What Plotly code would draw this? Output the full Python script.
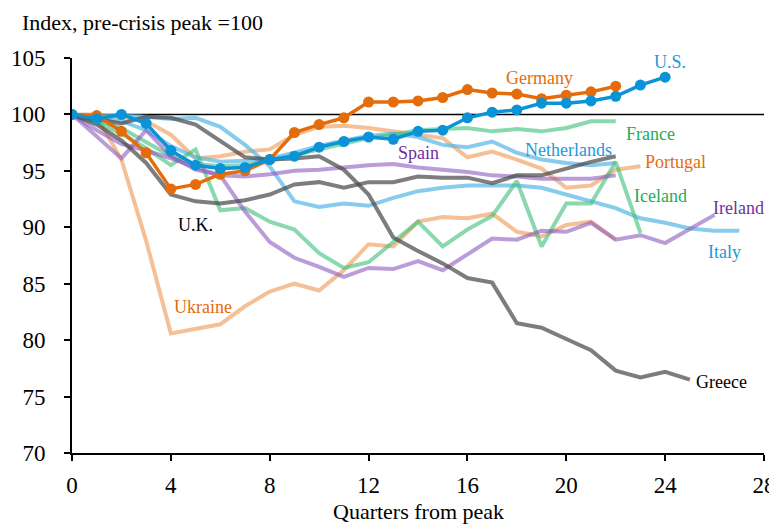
import plotly.graph_objects as go

# index, pre-crisis peak = 100, by quarters from peak
germany = [100, 99.9, 98.5, 96.6, 93.4, 93.8, 94.7, 95.0, 96.0, 98.4, 99.1, 99.7, 101.1, 101.1, 101.2,
           101.5, 102.2, 101.9, 101.8, 101.4, 101.7, 102.0, 102.5]
us = [100, 99.6, 100.0, 99.2, 96.8, 95.5, 95.2, 95.3, 96.0, 96.3, 97.1, 97.6, 98.0, 97.8, 98.5,
      98.6, 99.7, 100.2, 100.4, 101.0, 101.0, 101.2, 101.6, 102.6, 103.3]
france = [100, 99.5, 98.8, 97.6, 96.3, 95.6, 95.4, 95.5, 95.9, 96.4, 96.9, 97.4, 97.9, 98.2, 98.6,
          98.7, 98.8, 98.5, 98.7, 98.5, 98.8, 99.4, 99.4]
netherlands = [100, 99.7, 99.4, 98.6, 97.2, 96.2, 95.8, 95.9, 96.1, 96.6, 97.2, 97.7, 98.1, 98.3, 98.0,
               97.3, 97.1, 97.6, 96.6, 96.0, 95.7, 95.5, 95.7]
portugal = [100, 100.0, 99.7, 99.4, 98.2, 96.1, 96.3, 96.7, 96.9, 98.2, 98.9, 99.0, 98.8, 98.5, 98.2,
            97.9, 96.2, 96.7, 96.0, 95.2, 93.5, 93.7, 95.1, 95.4]
spain = [100, 98.0, 96.1, 98.6, 96.3, 95.1, 94.6, 94.5, 94.7, 95.0, 95.1, 95.3, 95.5, 95.6, 95.3,
         95.1, 94.9, 94.6, 94.5, 94.3, 94.3, 94.3, 94.6]
iceland = [100, 99.3, 98.3, 97.0, 95.5, 96.9, 91.5, 91.7, 90.5, 89.8, 87.7, 86.4, 86.9, 88.7, 90.5,
           88.3, 89.8, 91.0, 94.1, 88.3, 92.1, 92.1, 95.8, 89.5]
ireland = [100, 98.6, 97.4, 96.8, 96.1, 95.3, 94.6, 91.4, 88.7, 87.3, 86.5, 85.6, 86.4, 86.3, 87.0,
           86.2, 87.6, 89.0, 88.9, 89.7, 89.6, 90.4, 88.9, 89.3, 88.6, 89.9, 91.1]
italy = [100, 99.8, 99.9, 99.8, 99.6, 99.7, 98.9, 97.3, 95.4, 92.3, 91.8, 92.1, 91.9, 92.6, 93.2,
         93.5, 93.7, 93.7, 93.7, 93.5, 92.9, 92.3, 91.7, 90.8, 90.4, 89.9, 89.7, 89.7]
uk = [100, 99.1, 97.7, 95.7, 92.9, 92.3, 92.1, 92.4, 92.9, 93.8, 94.0, 93.5, 94.0, 94.0, 94.5,
      94.4, 94.4, 93.9, 94.6, 94.6, 95.2, 95.8, 96.3]
greece = [100, 99.6, 99.2, 99.8, 99.7, 99.1, 97.6, 96.2, 96.0, 96.1, 96.3, 95.1, 92.9, 89.1, 87.9,
          86.8, 85.5, 85.1, 81.5, 81.1, 80.1, 79.1, 77.3, 76.7, 77.2, 76.5]
ukraine = [100, 99.8, 96.0, 88.8, 80.6, 81.0, 81.4, 83.0, 84.3, 85.0, 84.4, 86.2, 88.5, 88.3, 90.5,
           90.9, 90.8, 91.2, 89.6, 89.2, 90.2, 90.5, 88.9]

x_ticks = [0, 4, 8, 12, 16, 20, 24, 28]
y_ticks = [70, 75, 80, 85, 90, 95, 100, 105]

FONT = "Liberation Serif"
ORANGE = "#E46C0A"
BLUE = "#0A93D6"
L_ORANGE = "rgba(240,150,80,0.6)"
L_BLUE = "rgba(85,182,230,0.7)"
L_GREEN = "rgba(60,190,120,0.6)"
L_PURPLE = "rgba(140,90,190,0.6)"
L_GRAY = "rgba(70,70,70,0.7)"

fig = go.Figure()

fig.add_shape(type="line", xref="x", yref="y", x0=0, x1=28, y0=100, y1=100,
              line=dict(color="black", width=1.5), layer="below")

light = [
    (ukraine, L_ORANGE), (portugal, L_ORANGE),
    (italy, L_BLUE), (netherlands, L_BLUE),
    (iceland, L_GREEN), (france, L_GREEN),
    (ireland, L_PURPLE), (spain, L_PURPLE),
    (greece, L_GRAY), (uk, L_GRAY),
]
for ys, col in light:
    fig.add_trace(go.Scatter(x=list(range(len(ys))), y=ys, mode="lines",
                             line=dict(color=col, width=4), showlegend=False))

for ys, col in [(germany, ORANGE), (us, BLUE)]:
    fig.add_trace(go.Scatter(x=list(range(len(ys))), y=ys, mode="lines+markers",
                             line=dict(color=col, width=3.5),
                             marker=dict(color=col, size=11), showlegend=False))

labels = [
    ("Germany", 18.9, 103.2, "#E46C0A"),
    ("U.S.", 24.2, 104.65, "#1E9AD6"),
    ("France", 23.4, 98.3, "#1BAE5A"),
    ("Netherlands", 20.1, 96.85, "#1E9AD6"),
    ("Portugal", 24.4, 95.8, "#E46C0A"),
    ("Spain", 14.0, 96.6, "#7030A0"),
    ("Iceland", 23.8, 92.8, "#1BAE5A"),
    ("Ireland", 26.95, 91.7, "#7030A0"),
    ("Italy", 26.4, 87.8, "#1E9AD6"),
    ("U.K.", 5.0, 90.2, "black"),
    ("Ukraine", 5.3, 82.9, "#E46C0A"),
    ("Greece", 26.3, 76.3, "black"),
]
for txt, xx, yy, col in labels:
    fig.add_annotation(x=xx, y=yy, text=txt, showarrow=False,
                       font=dict(family=FONT, size=18, color=col))

fig.add_annotation(x=-0.0752, y=1.091, xref="paper", yref="paper", xanchor="left", yanchor="middle",
                   text="Index, pre-crisis peak =100", showarrow=False,
                   font=dict(family=FONT, size=22, color="black"))
fig.add_annotation(x=0.5, y=-0.147, xref="paper", yref="paper", xanchor="center", yanchor="middle",
                   text="Quarters from peak", showarrow=False,
                   font=dict(family=FONT, size=22, color="black"))

# page body has an 8px margin, so the figure is sized to fill the rest of the window
fig.update_layout(
    width=769, height=516,
    margin=dict(l=64, r=13, t=50, b=71),
    plot_bgcolor="white", paper_bgcolor="white",
    font=dict(family=FONT, color="black"),
    xaxis=dict(range=[0, 28], tickvals=x_ticks, showgrid=False, zeroline=False,
               showline=True, linecolor="black", linewidth=2, ticks="outside",
               ticklen=6, tickwidth=1.5, tickcolor="black", automargin=False,
               ticklabelstandoff=4, ticklabeloverflow="allow",
               tickfont=dict(family=FONT, size=23)),
    yaxis=dict(range=[70, 105], tickvals=y_ticks, showgrid=False, zeroline=False,
               showline=True, linecolor="black", linewidth=2, ticks="outside",
               ticklen=6, tickwidth=1.5, tickcolor="black", automargin=False,
               ticklabelstandoff=14, tickfont=dict(family=FONT, size=23)),
)

fig.write_html("out.html")
